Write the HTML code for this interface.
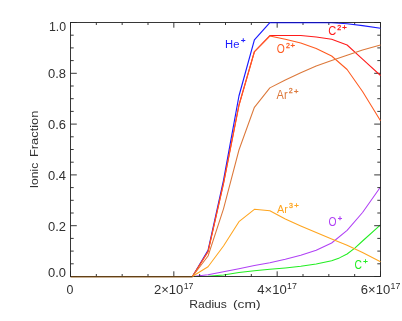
<!DOCTYPE html>
<html><head><meta charset="utf-8"><title>Ionic Fraction vs Radius</title>
<style>
html,body{margin:0;padding:0;background:#fff;}
body{width:402px;height:321px;overflow:hidden;}
svg{display:block;font-family:"Liberation Sans",sans-serif;will-change:transform;}
</style></head>
<body>
<svg width="402" height="321" viewBox="0 0 402 321">
<rect x="0" y="0" width="402" height="321" fill="#ffffff"/>
<path d="M70.5 276.9H192.6" fill="none" stroke="#7a4300" stroke-width="1"/>
<path d="M192.6 276.5 L208.05 274.8 L223.5 271.8 L238.95 268.7 L254.4 265.6 L269.85 262.7 L285.3 259.3 L300.75 255.2 L316.2 250.3 L331.65 243 L347.1 230.3 L362.55 212.5 L380.5 187" fill="none" stroke="#b040f5" stroke-width="1.05" stroke-linejoin="round"/>
<path d="M192.6 276.5 L208.05 276.3 L223.5 275 L238.95 272.6 L254.4 270.7 L269.85 269.3 L285.3 267.9 L300.75 266.2 L316.2 264 L331.65 260.8 L339.4 257.9 L347.1 254 L354.8 248.1 L362.55 241 L380.5 224.8" fill="none" stroke="#22ee22" stroke-width="1.05" stroke-linejoin="round"/>
<rect x="70.5" y="22.5" width="310" height="254" fill="none" stroke="#262626" stroke-width="0.92"/>
<path d="M70.5 276.5v-5.2M70.5 22.5v5.2M96.33 276.5v-2.5M96.33 22.5v2.5M122.17 276.5v-2.5M122.17 22.5v2.5M148 276.5v-2.5M148 22.5v2.5M173.83 276.5v-5.2M173.83 22.5v5.2M199.67 276.5v-2.5M199.67 22.5v2.5M225.5 276.5v-2.5M225.5 22.5v2.5M251.33 276.5v-2.5M251.33 22.5v2.5M277.17 276.5v-5.2M277.17 22.5v5.2M303 276.5v-2.5M303 22.5v2.5M328.83 276.5v-2.5M328.83 22.5v2.5M354.67 276.5v-2.5M354.67 22.5v2.5M380.5 276.5v-5.2M380.5 22.5v5.2M70.5 276.5h6.3M380.5 276.5h-6.3M70.5 263.8h3.2M380.5 263.8h-3.2M70.5 251.1h3.2M380.5 251.1h-3.2M70.5 238.4h3.2M380.5 238.4h-3.2M70.5 225.7h6.3M380.5 225.7h-6.3M70.5 213h3.2M380.5 213h-3.2M70.5 200.3h3.2M380.5 200.3h-3.2M70.5 187.6h3.2M380.5 187.6h-3.2M70.5 174.9h6.3M380.5 174.9h-6.3M70.5 162.2h3.2M380.5 162.2h-3.2M70.5 149.5h3.2M380.5 149.5h-3.2M70.5 136.8h3.2M380.5 136.8h-3.2M70.5 124.1h6.3M380.5 124.1h-6.3M70.5 111.4h3.2M380.5 111.4h-3.2M70.5 98.7h3.2M380.5 98.7h-3.2M70.5 86h3.2M380.5 86h-3.2M70.5 73.3h6.3M380.5 73.3h-6.3M70.5 60.6h3.2M380.5 60.6h-3.2M70.5 47.9h3.2M380.5 47.9h-3.2M70.5 35.2h3.2M380.5 35.2h-3.2M70.5 22.5h6.3M380.5 22.5h-6.3" fill="none" stroke="#262626" stroke-width="0.92"/>
<path d="M192.6 276.3 L208.05 250.3 L223.5 180.3 L238.95 96 L254.4 39.8 L269.85 22.6 L285.3 22.6 L300.75 22.6 L316.2 22.6 L331.65 22.7 L347.1 23.7 L362.55 25.6 L380.5 28.3" fill="none" stroke="#1a1aff" stroke-width="1.15" stroke-linejoin="round"/>
<path d="M192.6 276.3 L208.05 251.5 L223.5 183.2 L238.95 105 L254.4 51.5 L269.85 35.6 L285.3 35.45 L300.75 35.5 L316.2 37 L331.65 39.3 L347.1 45 L362.55 59.1 L380.5 75.5" fill="none" stroke="#ff1a1a" stroke-width="1.05" stroke-linejoin="round"/>
<path d="M192.6 276.3 L208.05 251.8 L223.5 183.8 L238.95 105.6 L254.4 52 L269.85 36.1 L285.3 39.3 L300.75 43 L316.2 48.5 L331.65 56 L347.1 69.5 L362.55 91.5 L380.5 120.8" fill="none" stroke="#ff5a1f" stroke-width="1.05" stroke-linejoin="round"/>
<path d="M192.6 276.3 L208.05 256 L223.5 208.8 L238.95 150 L254.4 107.3 L269.85 87.9 L285.3 80 L300.75 72.8 L316.2 66 L331.65 60.5 L347.1 55.2 L362.55 50 L380.5 45" fill="none" stroke="#dc783a" stroke-width="1.05" stroke-linejoin="round"/>
<path d="M192.6 276.3 L208.05 266.8 L223.5 246 L238.95 221.7 L254.4 209.3 L269.85 210.7 L285.3 219 L300.75 226 L316.2 232.6 L331.65 239 L347.1 245.2 L362.55 252.5 L380.5 261.7" fill="none" stroke="#ffa51f" stroke-width="1.05" stroke-linejoin="round"/>
<path d="M71 276.6H192.6" fill="none" stroke="#a05a00" stroke-opacity="0.5" stroke-width="1"/>
<path d="M270.5 22.5H338" fill="none" stroke="#000" stroke-opacity="0.28" stroke-width="1"/>
<text x="48.9" y="30.6" textLength="17.1" lengthAdjust="spacingAndGlyphs" font-size="12.4" fill="#303030">1.0</text>
<text x="48" y="78.1" textLength="18" lengthAdjust="spacingAndGlyphs" font-size="12.4" fill="#303030">0.8</text>
<text x="48" y="128.9" textLength="18" lengthAdjust="spacingAndGlyphs" font-size="12.4" fill="#303030">0.6</text>
<text x="48" y="179.7" textLength="18" lengthAdjust="spacingAndGlyphs" font-size="12.4" fill="#303030">0.4</text>
<text x="48" y="230.5" textLength="18" lengthAdjust="spacingAndGlyphs" font-size="12.4" fill="#303030">0.2</text>
<text x="48" y="276.7" textLength="18" lengthAdjust="spacingAndGlyphs" font-size="12.4" fill="#303030">0.0</text>
<text x="69.9" y="293.9" text-anchor="middle" font-size="12.4" fill="#303030">0</text>
<text x="153.9" y="293.9" textLength="29.4" lengthAdjust="spacingAndGlyphs" font-size="12.4" fill="#303030">2×10</text>
<text x="183.7" y="288.6" textLength="9.8" lengthAdjust="spacingAndGlyphs" font-size="9.5" fill="#303030">17</text>
<text x="257.3" y="293.9" textLength="29.4" lengthAdjust="spacingAndGlyphs" font-size="12.4" fill="#303030">4×10</text>
<text x="287.1" y="288.6" textLength="9.8" lengthAdjust="spacingAndGlyphs" font-size="9.5" fill="#303030">17</text>
<text x="360.8" y="293.9" textLength="29.4" lengthAdjust="spacingAndGlyphs" font-size="12.4" fill="#303030">6×10</text>
<text x="390.6" y="288.6" textLength="9.8" lengthAdjust="spacingAndGlyphs" font-size="9.5" fill="#303030">17</text>
<text x="189.2" y="307.8" textLength="37.7" lengthAdjust="spacingAndGlyphs" font-size="11.3" fill="#303030">Radius</text>
<text x="233" y="307.8" textLength="27.6" lengthAdjust="spacingAndGlyphs" font-size="11.3" fill="#303030">(cm)</text>
<g transform="translate(38.0 0) rotate(-90)">
<text x="-188.3" y="0" textLength="25.5" lengthAdjust="spacingAndGlyphs" font-size="11.3" fill="#303030">Ionic</text>
<text x="-157" y="0" textLength="46.4" lengthAdjust="spacingAndGlyphs" font-size="11.3" fill="#303030">Fraction</text>
</g>
<text transform="translate(225.1 47.6) scale(1.04 1)" font-size="10.8" fill="#1a1aff">He</text>
<text transform="translate(240.88 42.5) scale(1.1 1)" font-size="7.0" fill="#1a1aff" stroke="#1a1aff" stroke-width="0.3">+</text>
<text transform="translate(328.2 34.9) scale(0.9 1)" font-size="12.3" fill="#ff1a1a">C</text>
<text transform="translate(337.15 29.6) scale(0.92 1)" font-size="7.7" fill="#ff1a1a" stroke="#ff1a1a" stroke-width="0.3">2</text>
<text transform="translate(342.13 30.05) scale(1.1 1)" font-size="7.0" fill="#ff1a1a" stroke="#ff1a1a" stroke-width="0.3">+</text>
<text transform="translate(276.8 52.6) scale(0.84 1)" font-size="12.3" fill="#ff5a1f">O</text>
<text transform="translate(285.95 47.6) scale(0.92 1)" font-size="7.7" fill="#ff5a1f" stroke="#ff5a1f" stroke-width="0.3">2</text>
<text transform="translate(290.43 47.85) scale(1.1 1)" font-size="7.0" fill="#ff5a1f" stroke="#ff5a1f" stroke-width="0.3">+</text>
<text transform="translate(276.6 98.7) scale(0.92 1)" font-size="12" fill="#dc783a">Ar</text>
<text transform="translate(288.75 93.2) scale(0.92 1)" font-size="7.7" fill="#dc783a" stroke="#dc783a" stroke-width="0.3">2</text>
<text transform="translate(293.88 93.5) scale(1.1 1)" font-size="7.0" fill="#dc783a" stroke="#dc783a" stroke-width="0.3">+</text>
<text transform="translate(276.9 212.9) scale(0.93 1)" font-size="11.7" fill="#ffa51f">Ar</text>
<text transform="translate(288.95 207.6) scale(0.92 1)" font-size="7.7" fill="#ffa51f" stroke="#ffa51f" stroke-width="0.3">3</text>
<text transform="translate(294.28 207.8) scale(1.1 1)" font-size="7.0" fill="#ffa51f" stroke="#ffa51f" stroke-width="0.3">+</text>
<text transform="translate(328.6 225.8) scale(0.84 1)" font-size="12.3" fill="#b040f5">O</text>
<text transform="translate(337.73 220.5) scale(1.1 1)" font-size="7.0" fill="#b040f5" stroke="#b040f5" stroke-width="0.3">+</text>
<text transform="translate(354.4 268.8) scale(0.84 1)" font-size="12.3" fill="#22ee22">C</text>
<text transform="translate(363.18 264) scale(1.1 1)" font-size="7.0" fill="#22ee22" stroke="#22ee22" stroke-width="0.3">+</text>
</svg>
</body></html>
